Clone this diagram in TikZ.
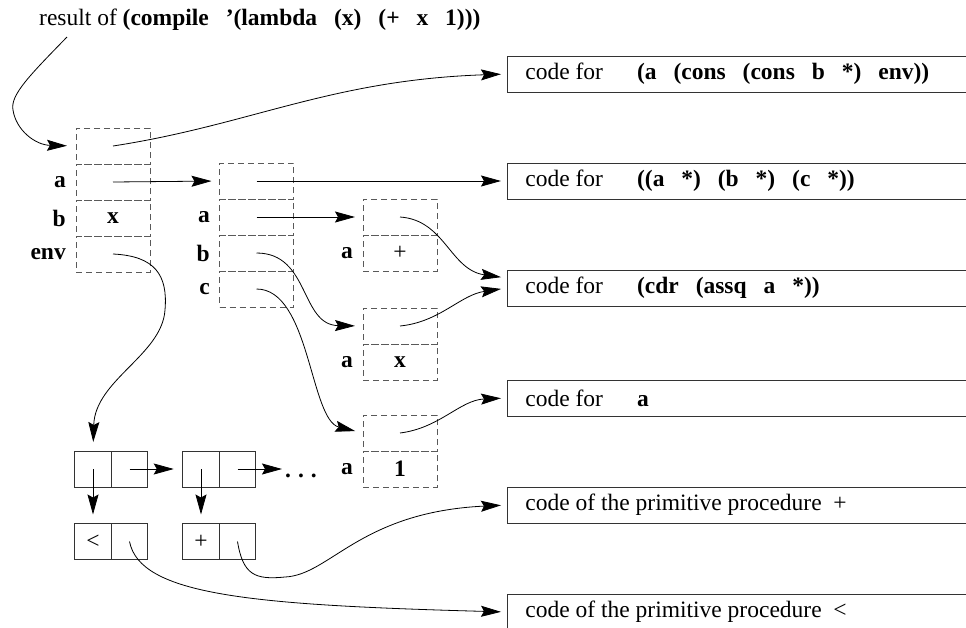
\documentclass[tikz,border=0pt]{standalone}
\usepackage{fontspec}
\setmainfont{Liberation Serif}
\usetikzlibrary{arrows.meta}

% bold lisp text with wide word gaps
\newcommand{\lisp}[1]{{\bfseries\spaceskip=0.72em\relax #1}}
\newcommand{\codetext}[1]{\makebox[437pt][l]{#1}}
\newcommand{\codefor}[1]{\codetext{code for\hspace{1.45em}\lisp{#1}}}

\tikzset{
  frame/.style={draw=black!65, dash pattern=on 6pt off 4pt, line width=0.9pt,
                minimum width=74pt, minimum height=36pt, inner sep=0pt, outer sep=0pt,
                font=\bfseries},
  slot/.style={anchor=east, inner sep=0pt, font=\bfseries},
  cons/.style={draw=black!80, line width=0.8pt, minimum width=36.5pt,
               minimum height=36pt, inner sep=0pt, outer sep=0pt},
  codebox/.style={draw=black!80, line width=0.8pt, anchor=west, minimum height=36pt,
                  inner xsep=18pt, inner ysep=0pt},
  ptr/.style={-{Stealth[length=20pt,width=11pt,inset=3pt]}, line width=0.8pt},
}

\begin{document}
\fontsize{23.5}{28}\selectfont
\begin{tikzpicture}[x=1pt,y=-1pt]

  \useasboundingbox (0,0) rectangle (966,627);
  \clip (0,0) rectangle (966,627);

  \node [anchor=west, inner sep=0pt] (title) at (39,20)
        {result of \lisp{(compile '(lambda (x) (+ x 1)))}};
  \coordinate (tstart) at (67,37);

  % code boxes on the right
  \node [codebox] (k1) at (507,74)  {\codefor{(a (cons (cons b *) env))}};
  \node [codebox] (k2) at (507,181) {\codefor{((a *) (b *) (c *))}};
  \node [codebox] (k3) at (507,288) {\codefor{(cdr (assq a *))}};
  \node [codebox] (k4) at (507,398) {\codefor{a}};
  \node [codebox] (k5) at (507,505) {\codetext{code of the primitive procedure\ \ +}};
  \node [codebox] (k6) at (507,612) {\codetext{code of the primitive procedure\ \ <}};

  % first frame
  \node [frame] (e0)   at (113,146) {};
  \node [frame] (ea)   at (113,182) {};
  \node [frame] (eb)   at (113,218) {x};
  \node [frame] (eenv) at (113,254) {};
  \node [slot] at (66,182) {a};
  \node [slot] at (66,218) {b};
  \node [slot] at (66,254) {env};

  % second frame
  \node [frame] (f0) at (256.5,181) {};
  \node [frame] (fa) at (256.5,217) {};
  \node [frame] (fb) at (256.5,253) {};
  \node [frame] (fc) at (256.5,289) {};
  \node [slot] at (210,217) {a};
  \node [slot] at (210,253) {b};
  \node [slot] at (210,289) {c};

  % small frames
  \node [frame] (p0) at (400,217) {};
  \node [frame] (pa) at (400,253) {\mdseries +};
  \node [frame] (q0) at (400,326) {};
  \node [frame] (qa) at (400,362) {x};
  \node [frame] (r0) at (400,433) {};
  \node [frame] (ra) at (400,469) {1};
  \node [slot] at (353,253) {a};
  \node [slot] at (353,362) {a};
  \node [slot] at (353,469) {a};

  % environment list
  \node [cons] (c1car) at (93,469)    {};
  \node [cons] (c1cdr) at (129.5,469) {};
  \node [cons] (c2car) at (201,469)   {};
  \node [cons] (c2cdr) at (237.5,469) {};
  \node [cons] (l1car) at (93,541.5)    {<};
  \node [cons] (l1cdr) at (129.5,541.5) {};
  \node [cons] (l2car) at (201,541.5)   {+};
  \node [cons] (l2cdr) at (237.5,541.5) {};
  \node [anchor=base west, inner sep=0pt, font=\bfseries] (more) at (285,477)
        {.\hspace{7pt}.\hspace{7pt}.};

  % pointers
  \draw [ptr, shorten >=9pt]
        (tstart) .. controls (30,75) and (10,95) .. (13,110)
                 .. controls (16,130) and (35,145) .. (e0.west);
  \draw [ptr, shorten >=6pt] (e0.center) .. controls (250,125) and (330,80) .. (k1.west);
  \draw [ptr, shorten >=8pt] (ea.center) -- (f0.west);
  \draw [ptr, shorten >=9pt]
        (eenv.center) .. controls (155,256) and (168,275) .. (165,310)
                      .. controls (162,355) and (95,380) .. (c1car.north);

  \draw [ptr, shorten >=6pt] (f0.center) -- (k2.west);
  \draw [ptr, shorten >=8pt] (fa.center) -- (p0.west);
  \draw [ptr, shorten >=8pt] (fb.center) .. controls (310,253) and (300,325) .. (q0.west);
  \draw [ptr, shorten >=8pt] (fc.center) .. controls (310,289) and (310,420) .. (r0.west);

  \draw [ptr, shorten >=6pt] (p0.center) .. controls (445,220) and (450,270) .. ([yshift=10pt]k3.west);
  \draw [ptr, shorten >=6pt] (q0.center) .. controls (440,322) and (460,295) .. (k3.west);
  \draw [ptr, shorten >=6pt] (r0.center) .. controls (440,428) and (460,400) .. (k4.west);

  \draw [ptr, shorten >=9pt] (c1cdr.center) -- (c2car.west);
  \draw [ptr, shorten >=9pt] (c1car.center) -- (l1car.north);
  \draw [ptr, shorten >=3pt] (c2cdr.center) -- (more.west |- c2cdr.center);
  \draw [ptr, shorten >=9pt] (c2car.center) -- (l2car.north);

  \draw [ptr, shorten >=6pt]
        (l2cdr.center) .. controls (243,575) and (255,580) .. (285,577)
                       .. controls (330,575) and (360,512) .. (k5.west);
  \draw [ptr, shorten >=6pt]
        (l1cdr.center) .. controls (140,595) and (250,605) .. (k6.west);

\end{tikzpicture}
\end{document}
